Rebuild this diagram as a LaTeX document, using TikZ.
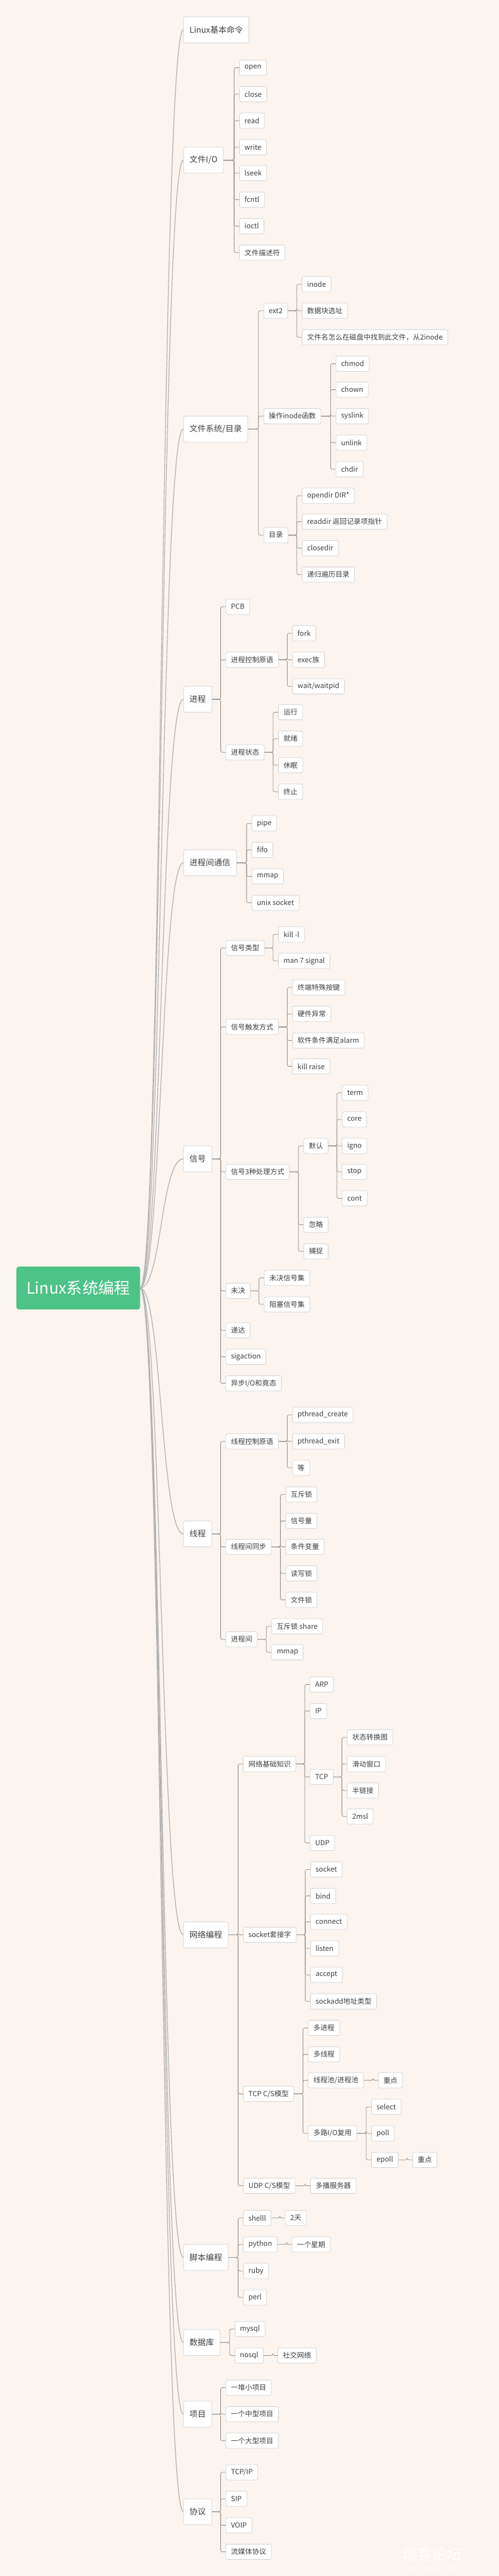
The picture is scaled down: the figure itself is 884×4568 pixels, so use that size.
\documentclass[tikz,border=0pt]{standalone}
\usepackage{fontspec}
\setmainfont{Noto Sans CJK SC}
\newfontfamily\wmfont{Liberation Serif}

\definecolor{paper}{RGB}{251,244,239}
\definecolor{rootgreen}{RGB}{76,195,135}
\definecolor{ink}{RGB}{62,62,62}
\definecolor{wire}{RGB}{150,150,150}
\definecolor{edge}{RGB}{214,214,214}

\tikzset{
  box/.style={draw=edge, line width=0.9pt, fill=white, rounded corners=3pt, text=ink, anchor=west, inner ysep=0pt},
  leaf/.style={box, minimum height=27pt, inner xsep=9pt, font=\fontsize{12.5}{14}\selectfont},
  topic/.style={box, minimum height=46pt, inner xsep=10.5pt, font=\fontsize{14.5}{17}\selectfont},
  rootnode/.style={fill=rootgreen, rounded corners=4pt, text=white, anchor=west, minimum height=76pt, minimum width=219pt, font=\fontsize{28}{32}\selectfont},
  branch/.style={draw=black!30, line width=1.3pt},
  link/.style={draw=wire, line width=0.9pt, rounded corners=3pt},
}

\begin{document}
\begin{tikzpicture}[x=1pt, y=-1pt]
		% paper
		\fill[paper] (0,0) rectangle (884,4568);
		\useasboundingbox (0,0) rectangle (884,4568);

		% root and main topics
		\node[rootnode] (root) at (29,2284) {Linux系统编程};
		\node[topic] (cmd) at (325,53) {Linux基本命令};
		\node[topic] (fio) at (325,284) {文件I/O};
		\node[topic] (fs) at (325,761) {文件系统/目录};
		\node[topic] (proc) at (325,1240) {进程};
		\node[topic] (ipc) at (325,1530) {进程间通信};
		\node[topic] (sig) at (325,2055) {信号};
		\node[topic] (thr) at (325,2720) {线程};
		\node[topic] (net) at (325,3431) {网络编程};
		\node[topic] (script) at (325,4003) {脚本编程};
		\node[topic] (db) at (325,4154) {数据库};
		\node[topic] (proj) at (325,4281) {项目};
		\node[topic] (proto) at (325,4454) {协议};

		% 文件I/O
		\node[leaf] (open) at (424,120) {open};
		\node[leaf] (close) at (424,167) {close};
		\node[leaf] (read) at (424,214) {read};
		\node[leaf] (write) at (424,261) {write};
		\node[leaf] (lseek) at (424,307) {lseek};
		\node[leaf] (fcntl) at (424,354) {fcntl};
		\node[leaf] (ioctl) at (424,401) {ioctl};
		\node[leaf] (fdesc) at (424,448) {文件描述符};

		% 文件系统/目录
		\node[leaf] (ext2) at (467,551) {ext2};
		\node[leaf] (inodefn) at (467,738) {操作inode函数};
		\node[leaf] (dir) at (467,949) {目录};
		\node[leaf] (inode) at (535,504) {inode};
		\node[leaf] (blk) at (535,551) {数据块选址};
		\node[leaf] (fname) at (535,598) {文件名怎么在磁盘中找到此文件，从2inode};
		\node[leaf] (chmod) at (595,645) {chmod};
		\node[leaf] (chown) at (595,691) {chown};
		\node[leaf] (syslink) at (595,738) {syslink};
		\node[leaf] (unlink) at (595,785) {unlink};
		\node[leaf] (chdir) at (595,832) {chdir};
		\node[leaf] (opendir) at (535,879) {opendir DIR*};
		\node[leaf] (readdir) at (535,925) {readdir 返回记录项指针};
		\node[leaf] (closedir) at (535,972) {closedir};
		\node[leaf] (rdir) at (535,1019) {递归遍历目录};

		% 进程
		\node[leaf] (pcb) at (400,1076) {PCB};
		\node[leaf] (pctl) at (400,1170) {进程控制原语};
		\node[leaf] (pstate) at (400,1334) {进程状态};
		\node[leaf] (fork) at (518,1123) {fork};
		\node[leaf] (exec) at (518,1170) {exec族};
		\node[leaf] (wait) at (518,1217) {wait/waitpid};
		\node[leaf] (srun) at (493,1263) {运行};
		\node[leaf] (sready) at (493,1310) {就绪};
		\node[leaf] (ssleep) at (493,1357) {休眠};
		\node[leaf] (sexit) at (493,1404) {终止};

		% 进程间通信
		\node[leaf] (pipe) at (446,1460) {pipe};
		\node[leaf] (fifo) at (446,1507) {fifo};
		\node[leaf] (ipcmmap) at (446,1554) {mmap};
		\node[leaf] (usock) at (446,1601) {unix socket};

		% 信号
		\node[leaf] (stype) at (400,1681) {信号类型};
		\node[leaf] (strig) at (400,1821) {信号触发方式};
		\node[leaf] (shand) at (400,2078) {信号3种处理方式};
		\node[leaf] (spend) at (400,2289) {未决};
		\node[leaf] (sdeliv) at (400,2359) {递达};
		\node[leaf] (sact) at (400,2406) {sigaction};
		\node[leaf] (sasync) at (400,2453) {异步I/O和竟态};
		\node[leaf] (killl) at (493,1657) {kill -l};
		\node[leaf] (man7) at (493,1704) {man 7 signal};
		\node[leaf] (tkey) at (518,1751) {终端特殊按键};
		\node[leaf] (hwexc) at (518,1798) {硬件异常};
		\node[leaf] (swcond) at (518,1845) {软件条件满足alarm};
		\node[leaf] (kraise) at (518,1891) {kill raise};
		\node[leaf] (dflt) at (538,2032) {默认};
		\node[leaf] (ign) at (538,2172) {忽略};
		\node[leaf] (catch) at (538,2219) {捕捉};
		\node[leaf] (dterm) at (606,1938) {term};
		\node[leaf] (dcore) at (606,1985) {core};
		\node[leaf] (digno) at (606,2032) {igno};
		\node[leaf] (dstop) at (606,2078) {stop};
		\node[leaf] (dcont) at (606,2125) {cont};
		\node[leaf] (pset) at (468,2266) {未决信号集};
		\node[leaf] (bset) at (468,2313) {阻塞信号集};

		% 线程
		\node[leaf] (tctl) at (400,2556) {线程控制原语};
		\node[leaf] (tsync) at (400,2743) {线程间同步};
		\node[leaf] (tproc) at (400,2907) {进程间};
		\node[leaf] (pcreate) at (518,2509) {pthread\_create};
		\node[leaf] (pexit) at (518,2556) {pthread\_exit};
		\node[leaf] (etc) at (518,2603) {等};
		\node[leaf] (mutex) at (506,2650) {互斥锁};
		\node[leaf] (sem) at (506,2697) {信号量};
		\node[leaf] (cond) at (506,2743) {条件变量};
		\node[leaf] (rwlock) at (506,2790) {读写锁};
		\node[leaf] (flock) at (506,2837) {文件锁};
		\node[leaf] (mshare) at (481,2884) {互斥锁 share};
		\node[leaf] (tmmap) at (481,2930) {mmap};

		% 网络编程
		\node[leaf] (nbase) at (431,3128) {网络基础知识};
		\node[leaf] (sock) at (431,3431) {socket套接字};
		\node[leaf] (tcpcs) at (431,3713) {TCP C/S模型};
		\node[leaf] (udpcs) at (431,3876) {UDP C/S模型};
		\node[leaf] (arp) at (549,2987) {ARP};
		\node[leaf] (ip) at (549,3034) {IP};
		\node[leaf] (tcp) at (549,3151) {TCP};
		\node[leaf] (udp) at (549,3268) {UDP};
		\node[leaf] (fsm) at (615,3081) {状态转换图};
		\node[leaf] (win) at (615,3128) {滑动窗口};
		\node[leaf] (half) at (615,3175) {半链接};
		\node[leaf] (msl) at (615,3221) {2msl};
		\node[leaf] (socket) at (550,3315) {socket};
		\node[leaf] (bind) at (550,3362) {bind};
		\node[leaf] (connect) at (550,3408) {connect};
		\node[leaf] (listen) at (550,3455) {listen};
		\node[leaf] (accept) at (550,3502) {accept};
		\node[leaf] (saddr) at (550,3549) {sockadd地址类型};
		\node[leaf] (mproc) at (546,3596) {多进程};
		\node[leaf] (mthr) at (546,3643) {多线程};
		\node[leaf] (pool) at (546,3689) {线程池/进程池};
		\node[leaf] (mux) at (546,3783) {多路I/O复用};
		\node[leaf] (keya) at (670,3689) {重点};
		\node[leaf] (select) at (658,3736) {select};
		\node[leaf] (poll) at (658,3783) {poll};
		\node[leaf] (epoll) at (658,3830) {epoll};
		\node[leaf] (keyb) at (731,3830) {重点};
		\node[leaf] (mcast) at (550,3876) {多播服务器};

		% 脚本编程
		\node[leaf] (shell) at (431,3933) {shelll};
		\node[leaf] (python) at (431,3980) {python};
		\node[leaf] (ruby) at (431,4027) {ruby};
		\node[leaf] (perl) at (431,4074) {perl};
		\node[leaf] (days) at (505,3933) {2天};
		\node[leaf] (week) at (517,3980) {一个星期};

		% 数据库
		\node[leaf] (mysql) at (416,4130) {mysql};
		\node[leaf] (nosql) at (416,4177) {nosql};
		\node[leaf] (social) at (492,4177) {社交网络};

		% 项目
		\node[leaf] (psmall) at (400,4234) {一堆小项目};
		\node[leaf] (pmid) at (400,4281) {一个中型项目};
		\node[leaf] (pbig) at (400,4328) {一个大型项目};

		% 协议
		\node[leaf] (tcpip) at (400,4384) {TCP/IP};
		\node[leaf] (sip) at (400,4431) {SIP};
		\node[leaf] (voip) at (400,4478) {VOIP};
		\node[leaf] (stream) at (400,4525) {流媒体协议};

		% watermark
		\node[text=white, font=\fontsize{26}{28}\selectfont] (wmark) at (766,4530) {瑞客论坛};
		\node[text=white, font=\wmfont\itshape\fontsize{13}{14}\selectfont] (wmurl) at (766,4553) {www.ruike1.com};

		% Branches from the root:
		\foreach \t in {cmd,fio,fs,proc,ipc,sig,thr,net,script,db,proj,proto}
			\draw[branch] (root.east) .. controls +(38,0) and +(-40,0) .. (\t.west);

		% Wires, parent -> children:
		\foreach \p/\k in {fio/open,fio/close,fio/read,fio/write,fio/lseek,fio/fcntl,fio/ioctl,fio/fdesc,
				fs/ext2,fs/inodefn,fs/dir,ext2/inode,ext2/blk,ext2/fname,
				inodefn/chmod,inodefn/chown,inodefn/syslink,inodefn/unlink,inodefn/chdir,
				dir/opendir,dir/readdir,dir/closedir,dir/rdir,
				proc/pcb,proc/pctl,proc/pstate,pctl/fork,pctl/exec,pctl/wait,
				pstate/srun,pstate/sready,pstate/ssleep,pstate/sexit,
				ipc/pipe,ipc/fifo,ipc/ipcmmap,ipc/usock,
				sig/stype,sig/strig,sig/shand,sig/spend,sig/sdeliv,sig/sact,sig/sasync,
				stype/killl,stype/man7,strig/tkey,strig/hwexc,strig/swcond,strig/kraise,
				shand/dflt,shand/ign,shand/catch,
				dflt/dterm,dflt/dcore,dflt/digno,dflt/dstop,dflt/dcont,spend/pset,spend/bset,
				thr/tctl,thr/tsync,thr/tproc,tctl/pcreate,tctl/pexit,tctl/etc,
				tsync/mutex,tsync/sem,tsync/cond,tsync/rwlock,tsync/flock,tproc/mshare,tproc/tmmap,
				net/nbase,net/sock,net/tcpcs,net/udpcs,
				nbase/arp,nbase/ip,nbase/tcp,nbase/udp,tcp/fsm,tcp/win,tcp/half,tcp/msl,
				sock/socket,sock/bind,sock/connect,sock/listen,sock/accept,sock/saddr,
				tcpcs/mproc,tcpcs/mthr,tcpcs/pool,tcpcs/mux,pool/keya,
				mux/select,mux/poll,mux/epoll,epoll/keyb,udpcs/mcast,
				script/shell,script/python,script/ruby,script/perl,shell/days,python/week,
				db/mysql,db/nosql,nosql/social,
				proj/psmall,proj/pmid,proj/pbig,
				proto/tcpip,proto/sip,proto/voip,proto/stream}
			\draw[link] (\p.east) -| ([xshift=-9pt]\k.west) -- (\k.west);
	\end{tikzpicture}
\end{document}
